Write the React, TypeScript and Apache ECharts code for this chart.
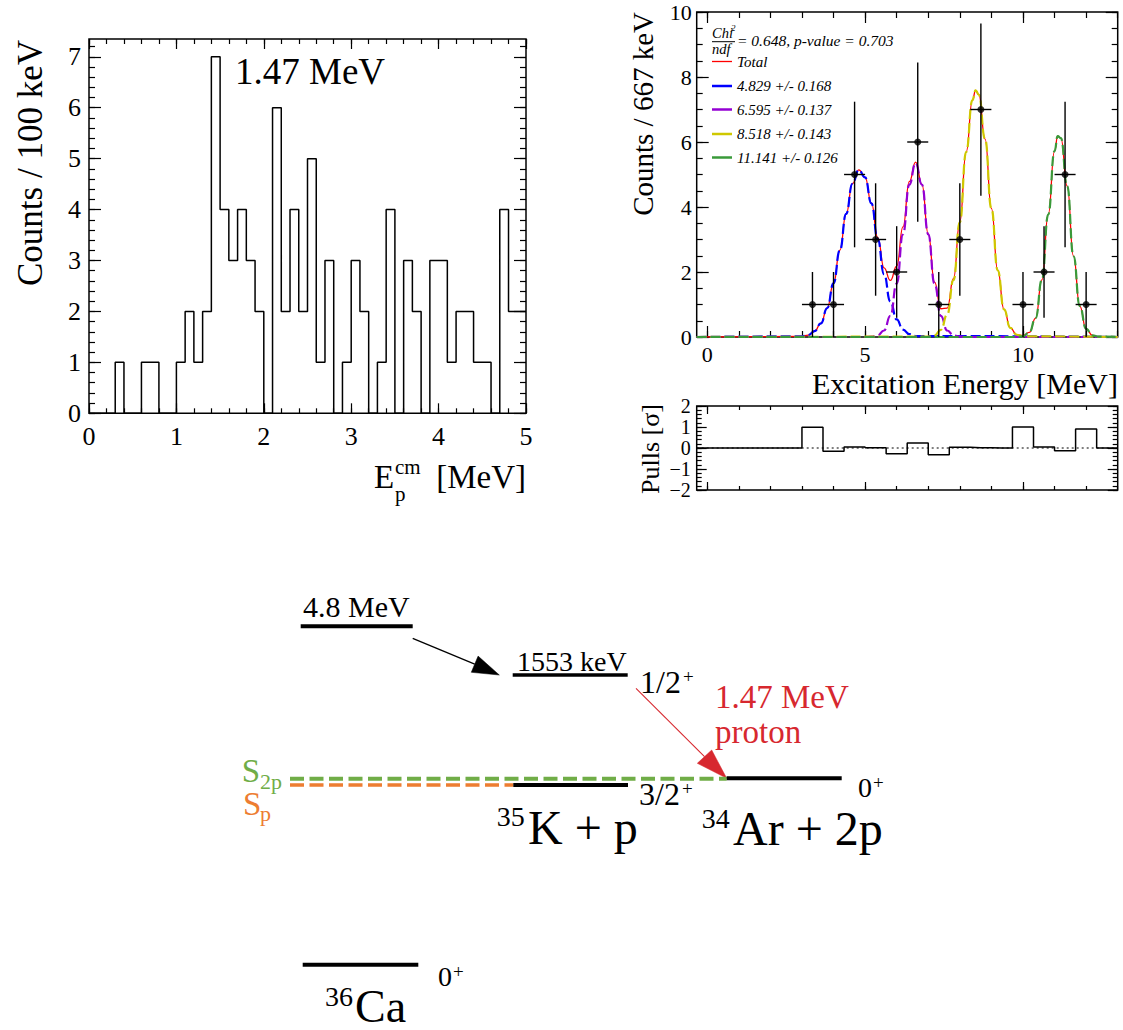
import React, { useEffect, useRef } from "react";
import * as echarts from "echarts";

const SERIF = "'Liberation Serif', 'Times New Roman', Times, serif";

// ---------------- Left panel: proton energy histogram ----------------
const leftBinStart = 0;
const leftBinWidth = 0.1;
const leftCounts = [
  0, 0, 0, 1, 0, 0, 1, 1, 0, 0,
  1, 2, 1, 2, 7, 4, 3, 4, 3, 2,
  0, 6, 2, 4, 2, 5, 1, 3, 0, 1,
  3, 2, 0, 1, 4, 0, 3, 2, 0, 3,
  3, 1, 2, 2, 1, 1, 0, 4, 2, 2,
];
const leftXTicks = [0, 1, 2, 3, 4, 5];
const leftYTicks = [0, 1, 2, 3, 4, 5, 6, 7];
const leftPeakLabel = "1.47 MeV";

// ---------------- Right panel: excitation-energy spectrum ----------------
const specX = [3.333, 4.0, 4.667, 5.333, 6.0, 6.667, 7.333, 8.0, 8.667, 10.0, 10.667, 11.333, 12.0];
const specY = [1, 1, 5, 3, 2, 6, 1, 3, 7, 1, 2, 5, 1];
const specYErr = [1, 1, 2.24, 1.73, 1.41, 2.45, 1, 1.73, 2.65, 1, 1.41, 2.24, 1];
const specXHalf = 0.333;

// fit components: [energy, counts]
const fitBlue = [
  [3.0, 0.02], [3.2, 0.06], [3.4, 0.18], [3.6, 0.42], [3.8, 0.89], [4.0, 1.65], [4.2, 2.67],
  [4.4, 3.79], [4.6, 4.72], [4.8, 5.14], [5.0, 4.91], [5.2, 4.11], [5.4, 3.01], [5.6, 1.93],
  [5.8, 1.09], [6.0, 0.54], [6.2, 0.23], [6.4, 0.09], [6.6, 0.03],
];
const fitPurple = [
  [5.0, 0.0], [5.2, 0.01], [5.4, 0.05], [5.6, 0.2], [5.8, 0.65], [6.0, 1.64], [6.2, 3.16],
  [6.4, 4.69], [6.6, 5.35], [6.8, 4.69], [7.0, 3.16], [7.2, 1.64], [7.4, 0.65], [7.6, 0.2],
  [7.8, 0.05], [8.0, 0.01], [8.2, 0.0],
];
const fitYellow = [
  [7.0, 0.01], [7.2, 0.05], [7.4, 0.22], [7.6, 0.69], [7.8, 1.75], [8.0, 3.53], [8.2, 5.69],
  [8.4, 7.29], [8.5, 7.59], [8.6, 7.46], [8.8, 6.09], [9.0, 3.96], [9.2, 2.05], [9.4, 0.85],
  [9.6, 0.28], [9.8, 0.07], [10.0, 0.02],
];
const fitGreen = [
  [9.8, 0.0], [10.0, 0.02], [10.2, 0.14], [10.4, 0.58], [10.6, 1.76], [10.8, 3.77], [11.0, 5.72],
  [11.1, 6.18], [11.2, 6.12], [11.4, 4.64], [11.6, 2.49], [11.8, 0.95], [12.0, 0.25], [12.2, 0.05],
  [12.4, 0.01],
];
const legendLabels = ["Total", "4.829 +/- 0.168", "6.595 +/- 0.137", "8.518 +/- 0.143", "11.141 +/- 0.126"];
const legendColors = ["#ff0000", "#0000ff", "#9400d3", "#cfc800", "#3a9a3a"];
const chiText = "= 0.648, p-value = 0.703";
const rightXTicks = [0, 5, 10];
const rightYTicks = [0, 2, 4, 6, 8, 10];

// ---------------- Pulls ----------------
const pullCenters = [0, 0.667, 1.333, 2.0, 2.667, 3.333, 4.0, 4.667, 5.333, 6.0, 6.667, 7.333, 8.0, 8.667, 9.333, 10.0, 10.667, 11.333, 12.0, 12.667];
const pullValues = [0, 0, 0, 0, 0, 0.99, -0.16, 0.05, 0.01, -0.27, 0.24, -0.32, 0.03, 0.01, 0.0, 1.0, 0.05, -0.13, 0.9, 0];
const pullYTicks = [-2, -1, 0, 1, 2];

// ---------------- layout ----------------
const G0 = { left: 89, top: 39, width: 437, height: 374.3 };
const G1 = { left: 696.7, top: 12, width: 421, height: 325 };
const G2 = { left: 696.7, top: 406, width: 421, height: 84 };
const X0: [number, number] = [0, 5];
const Y0: [number, number] = [0, 7.35];
const X1: [number, number] = [-0.3333, 13.0];
const Y1: [number, number] = [0, 10];
const X2: [number, number] = [-0.3333, 13.0];
const Y2: [number, number] = [-2, 2];

const GREEN = "#70ad47";
const ORANGE = "#ed7d31";
const RED = "#d7282f";

function steps(a: number, b: number, s: number) {
  const out: number[] = [];
  const n = Math.round((b - a) / s);
  for (let i = 0; i <= n; i++) out.push(+(a + i * s).toFixed(4));
  return out;
}

function tickAxis(grid: number, position: string, ext: [number, number], values: number[], len: number, label: any) {
  return {
    type: "value",
    gridIndex: grid,
    position,
    min: ext[0],
    max: ext[1],
    axisLine: { show: false, onZero: false },
    splitLine: { show: false },
    minorTick: { show: false },
    axisPointer: { show: false },
    silent: true,
    axisTick: { show: true, inside: true, length: len, customValues: values, lineStyle: { color: "#000", width: 1.2 } },
    axisLabel: label
      ? {
          show: true,
          customValues: label.values,
          fontFamily: SERIF,
          fontSize: label.size,
          color: "#000",
          margin: label.margin,
          formatter: (v: number) => (v < 0 ? "\u2212" + Math.abs(v) : String(v)),
        }
      : { show: false },
  };
}

function frameAxes(dim: "x" | "y", grid: number, ext: [number, number], majors: number[], minors: number[], majLen: number, minLen: number, label: any) {
  const pos = dim === "x" ? ["bottom", "top"] : ["left", "right"];
  return [
    tickAxis(grid, pos[0], ext, majors, majLen, label),
    tickAxis(grid, pos[0], ext, minors, minLen, null),
    tickAxis(grid, pos[1], ext, majors, majLen, null),
    tickAxis(grid, pos[1], ext, minors, minLen, null),
  ];
}

function T(text: string, x: number, y: number, size: number, o: any = {}) {
  return {
    type: "text",
    x,
    y,
    rotation: o.rot || 0,
    silent: true,
    z: 10,
    style: {
      text,
      fontFamily: SERIF,
      fontSize: size,
      fontStyle: o.italic ? "italic" : "normal",
      fill: o.fill || "#000",
      align: o.align || "left",
      verticalAlign: "middle",
    },
  };
}

function L(x1: number, y1: number, x2: number, y2: number, w: number, color = "#000", dash?: number[]) {
  const style: any = { stroke: color, lineWidth: w };
  if (dash) style.lineDash = dash;
  return { type: "line", silent: true, z: 10, shape: { x1, y1, x2, y2 }, style };
}

function P(points: number[][], color: string) {
  return { type: "polygon", silent: true, z: 10, shape: { points }, style: { fill: color, stroke: color, lineWidth: 0.5 } };
}

function buildOption() {
  // left histogram outline
  const leftHist = leftCounts.map((c, i) => [leftBinStart + i * leftBinWidth, c]);
  leftHist.push([leftBinStart + leftCounts.length * leftBinWidth, leftCounts[leftCounts.length - 1]]);

  // total fit = sum of components
  const comps = [fitBlue, fitPurple, fitYellow, fitGreen];
  const sum = new Map<number, number>();
  comps.forEach((c) => c.forEach(([x, y]) => {
    const k = Math.round(x * 100);
    sum.set(k, (sum.get(k) || 0) + y);
  }));
  const total = [...sum.keys()].sort((a, b) => a - b).map((k) => [k / 100, sum.get(k) as number]);
  const withEnds = (pts: number[][]) => [[X1[0], 0], ...pts, [X1[1], 0]];

  const pullPts = [[X2[0], 0], ...pullCenters.map((c, i) => [c, pullValues[i]]), [X2[1], 0]];

  const xAxis = [
    ...frameAxes("x", 0, X0, leftXTicks, steps(0, 5, 0.2), 10, 5, { values: leftXTicks, size: 26, margin: 10 }),
    ...frameAxes("x", 1, X1, rightXTicks, steps(0, 13, 1), 11, 6, { values: rightXTicks, size: 22, margin: 6 }),
    ...frameAxes("x", 2, X2, rightXTicks, steps(0, 13, 1), 8, 4, null),
  ];
  const yAxis = [
    ...frameAxes("y", 0, Y0, leftYTicks, steps(0, 7.2, 0.2), 12, 6, { values: leftYTicks, size: 26, margin: 8 }),
    ...frameAxes("y", 1, Y1, rightYTicks, steps(0, 10, 0.5), 12, 6, { values: rightYTicks, size: 22, margin: 5 }),
    ...frameAxes("y", 2, Y2, pullYTicks, steps(-2, 2, 0.2), 10, 5, { values: pullYTicks, size: 20, margin: 6 }),
  ];

  const lineBase = { type: "line", symbol: "none", silent: true, animation: false };

  const series: any[] = [
    { ...lineBase, xAxisIndex: 0, yAxisIndex: 0, data: leftHist, step: "end", lineStyle: { color: "#000", width: 1.5 }, z: 3 },
    { ...lineBase, xAxisIndex: 4, yAxisIndex: 4, data: withEnds(total), smooth: 0.5, smoothMonotone: "x", lineStyle: { color: "#ff0000", width: 1.3 }, z: 2 },
    ...comps.map((c, i) => ({
      ...lineBase,
      xAxisIndex: 4,
      yAxisIndex: 4,
      data: withEnds(c),
      smooth: 0.5,
      smoothMonotone: "x",
      lineStyle: { color: legendColors[i + 1], width: 2.2, type: [10, 4] },
      z: 3,
    })),
    {
      type: "custom",
      xAxisIndex: 4,
      yAxisIndex: 4,
      silent: true,
      z: 4,
      data: specX.map((x, i) => [x, specY[i], specYErr[i]]),
      encode: { x: 0, y: 1 },
      renderItem: (_p: any, api: any) => {
        const x = api.value(0);
        const y = api.value(1);
        const e = api.value(2);
        const a = api.coord([x, y - e]);
        const b = api.coord([x, y + e]);
        const c = api.coord([x - specXHalf, y]);
        const d = api.coord([x + specXHalf, y]);
        return {
          type: "group",
          children: [
            { type: "line", shape: { x1: a[0], y1: a[1], x2: b[0], y2: b[1] }, style: { stroke: "#000", lineWidth: 1.4 } },
            { type: "line", shape: { x1: c[0], y1: c[1], x2: d[0], y2: d[1] }, style: { stroke: "#000", lineWidth: 1.4 } },
          ],
        };
      },
    },
    {
      type: "scatter",
      xAxisIndex: 4,
      yAxisIndex: 4,
      silent: true,
      z: 5,
      symbolSize: 7,
      itemStyle: { color: "#000" },
      data: specX.map((x, i) => [x, specY[i]]),
    },
    { ...lineBase, xAxisIndex: 8, yAxisIndex: 8, data: [[X2[0], 0], [X2[1], 0]], lineStyle: { color: "#000", width: 1, type: [2, 3] }, z: 2 },
    { ...lineBase, xAxisIndex: 8, yAxisIndex: 8, data: pullPts, step: "middle", lineStyle: { color: "#000", width: 1.5 }, z: 3 },
  ];

  const legendY = [61.5, 86, 109.5, 134, 157.5];
  const graphic: any[] = [
    // left panel texts
    T(leftPeakLabel, 235, 71, 37),
    T("Counts / 100 keV", 30, 40, 35, { align: "right", rot: Math.PI / 2 }),
    T("E", 374, 477, 33),
    T("cm", 395, 467, 21),
    T("p", 395, 494, 21),
    T("[MeV]", 526, 477, 33, { align: "right" }),
    // right panel texts
    T("Counts / 667 keV", 643, 12, 29, { align: "right", rot: Math.PI / 2 }),
    T("Excitation Energy [MeV]", 1118, 383.5, 30, { align: "right" }),
    T("Chi", 712, 33, 14.5, { italic: true }),
    T("2", 731, 28, 9, { italic: true }),
    L(712, 41.7, 735, 41.7, 1),
    T("ndf", 712, 49, 14.5, { italic: true }),
    T(chiText, 737, 40, 15.5, { italic: true }),
    ...legendLabels.flatMap((lab, i) => [
      L(712, legendY[i], 732, legendY[i], i === 0 ? 1.3 : 2.5, legendColors[i]),
      T(lab, 737, legendY[i], 15, { italic: true }),
    ]),
    // pulls label
    T("Pulls [\u03c3]", 650, 449, 26, { align: "center", rot: Math.PI / 2 }),

    // ---------------- level scheme ----------------
    L(300.7, 626.3, 412.7, 626.3, 4),
    T("4.8 MeV", 303, 606.5, 30),
    L(412.7, 638.3, 474.7, 664.2, 1.3),
    P([[499.3, 675], [471.3, 672.3], [478.1, 656.1]], "#000"),
    L(512.7, 675, 627.7, 675, 3.5),
    T("1553 keV", 517, 661.5, 28),
    T("1/2", 640, 681.7, 32),
    T("+", 683, 676, 19),
    // red proton arrow
    L(636, 688.3, 704.5, 756.7, 1.1, RED),
    P([[726.7, 778.3], [697.3, 763.3], [711.7, 750]], RED),
    T("1.47 MeV", 715, 697, 33, { fill: RED }),
    T("proton", 715, 732, 33, { fill: RED }),
    // thresholds
    L(290, 778.7, 726.7, 778.7, 4, GREEN, [14, 5.5]),
    L(290, 785, 513.3, 785, 3.5, ORANGE, [14, 5.5]),
    T("S", 241.7, 771, 33, { fill: GREEN }),
    T("2p", 260, 781, 22, { fill: GREEN }),
    T("S", 243, 804, 33, { fill: ORANGE }),
    T("p", 260, 813, 22, { fill: ORANGE }),
    // 35K + p
    L(513.3, 785, 628, 785, 4),
    T("3/2", 639, 794, 32),
    T("+", 682, 788, 19),
    T("35", 496.7, 816.5, 28),
    T("K + p", 528, 827.5, 48),
    // 34Ar + 2p
    L(726.7, 778.3, 841.7, 778.3, 4),
    T("0", 858, 787.5, 28),
    T("+", 873, 782, 19),
    T("34", 701.7, 818, 28),
    T("Ar + 2p", 733, 828, 48),
    // 36Ca
    L(302.7, 964.7, 418.3, 964.7, 4),
    T("0", 438, 976.5, 28),
    T("+", 453, 971, 19),
    T("36", 325, 996, 28),
    T("Ca", 355, 1006, 46),
  ];

  return {
    animation: false,
    backgroundColor: "#fff",
    textStyle: { fontFamily: SERIF },
    grid: [G0, G1, G2].map((g) => ({ ...g, show: true, borderColor: "#000", borderWidth: 1.5, backgroundColor: "transparent", containLabel: false })),
    xAxis,
    yAxis,
    series,
    graphic,
  };
}

export default function App() {
  const ref = useRef<HTMLDivElement>(null);
  useEffect(() => {
    const chart = echarts.init(ref.current as HTMLDivElement, null, { renderer: "svg" });
    chart.setOption(buildOption() as any);
    return () => chart.dispose();
  }, []);
  return (
    <div
      ref={ref}
      style={{ position: "absolute", left: 0, top: 0, width: 1123, height: 1030, background: "#fff" }}
    />
  );
}
